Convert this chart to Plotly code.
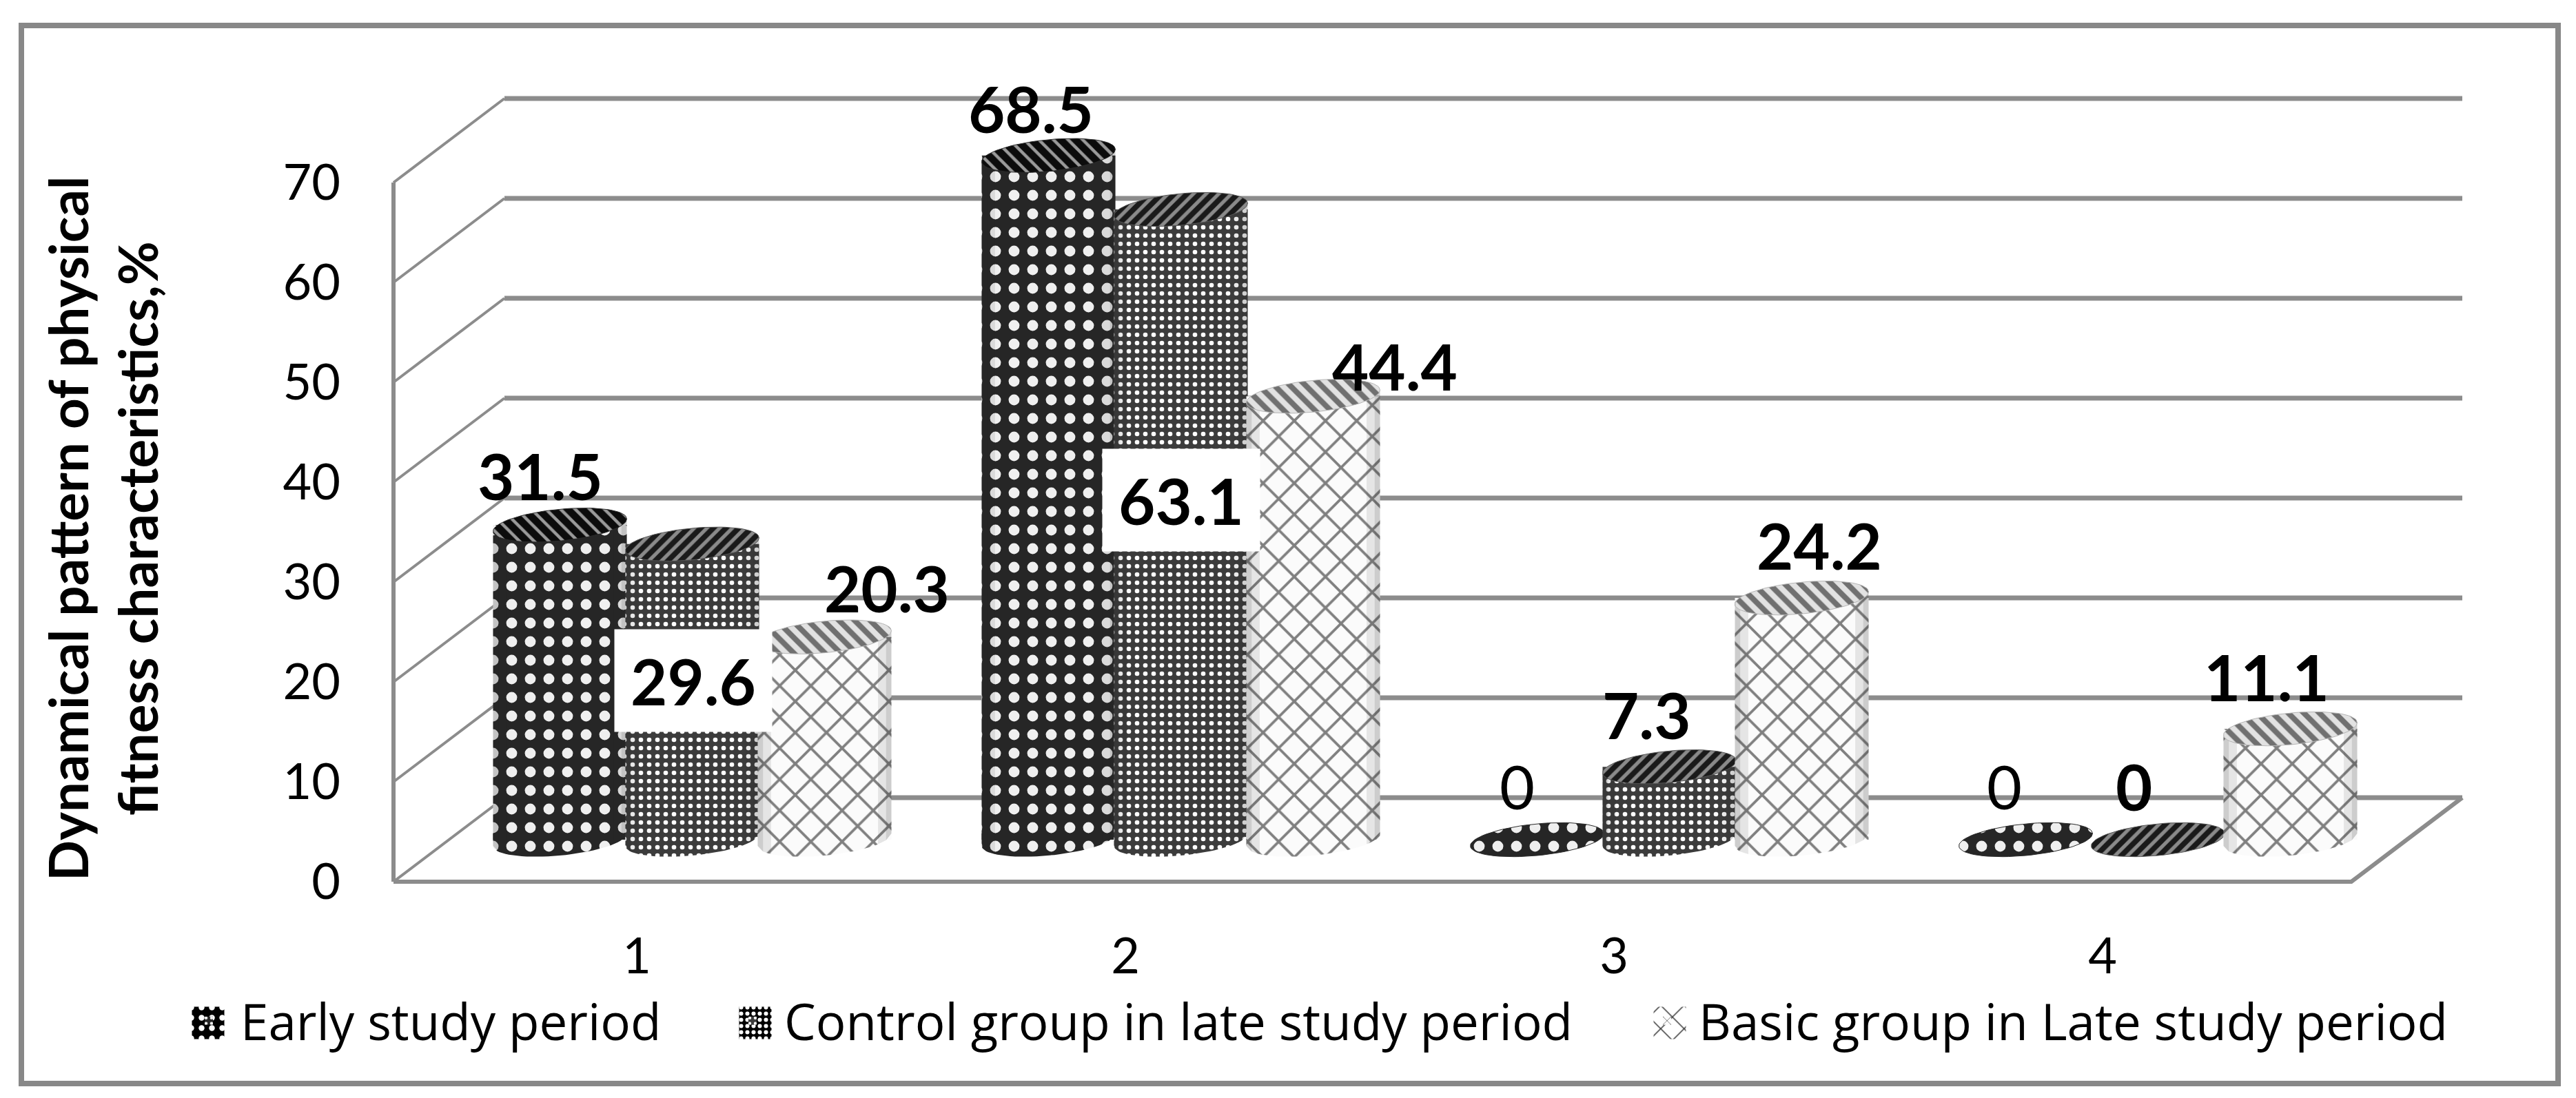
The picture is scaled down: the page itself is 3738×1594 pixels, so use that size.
import numpy as np
import plotly.graph_objects as go

categories = [1, 2, 3, 4]
series_names = ["Early study period", "Control group in late study period", "Basic group in Late study period"]
early = [31.5, 68.5, 0, 0]
control = [29.6, 63.1, 7.3, 0]
basic = [20.3, 44.4, 24.2, 11.1]
y_ticks = [0, 10, 20, 30, 40, 50, 60, 70]

W, H = 3738, 1594
PX_X = 709.0            # px per category
PX_Y = 14.5             # px per value unit
X1_PX, Y0_PX = 924, 1280
sx = lambda px: 1 + (px - X1_PX) / PX_X      # page px -> x axis units
sy = lambda px: (Y0_PX - px) / PX_Y          # page px -> y axis units

x_left, x_right = sx(571), sx(3412)
depth_x, depth_y = 161 / PX_X, 122 / PX_Y
mid_x, mid_y = depth_x / 2, depth_y / 2
offset = 192 / PX_X
bar_w = 194 / PX_X
a, b, tilt = 97 / PX_X, 23 / PX_Y, 9 / PX_Y

body_pat = [
    dict(shape=".", fgcolor="#efefef", bgcolor="#262626", size=27, solidity=0.27, fgopacity=1),
    dict(shape=".", fgcolor="#ffffff", bgcolor="#3c3c3c", size=12, solidity=0.24, fgopacity=1),
    dict(shape="x", fgcolor="#808080", bgcolor="#fbfbfb", size=32, solidity=0.22, fgopacity=1),
]
cap_pat = [
    dict(shape="\\", fgcolor="#0c0c0c", bgcolor="#9a9a9a", size=15, solidity=0.7, fgopacity=1),
    dict(shape="/", fgcolor="#1a1a1a", bgcolor="#8a8a8a", size=13, solidity=0.6, fgopacity=1),
    dict(shape="\\", fgcolor="#707070", bgcolor="#e2e2e2", size=16, solidity=0.5, fgopacity=1),
]
swatch_pat = [
    dict(shape=".", fgcolor="#ffffff", bgcolor="#000000", size=15, solidity=0.25, fgopacity=1),
    dict(shape=".", fgcolor="#ffffff", bgcolor="#000000", size=9, solidity=0.35, fgopacity=1),
    dict(shape="x", fgcolor="#333333", bgcolor="#ffffff", size=24, solidity=0.12, fgopacity=1),
]
edge = ["#2a2a2a", "#555555", "#b5b5b5"]

label_shift = {
    (0, 0): (-29, 72), (0, 1): (-26, 68), (0, 2): (-29, 78), (0, 3): (-31, 78),
    (1, 0): (1, -198), (1, 1): (0, -422), (1, 2): (-33, 76), (1, 3): (-35, 78),
    (2, 0): (90, 71), (2, 1): (118, 44), (2, 2): (25, 77), (2, 3): (-35, 76),
}
boxed = {(1, 0), (1, 1)}
light = {(0, 2), (0, 3)}
legend_x_px = [257, 1046, 2373]
swatch_px = [302, 1096, 2423]
FONT = "Lato"
LEG_FONT = "Open Sans"
GREY = "#8c8c8c"

fig = go.Figure()

# perspective gridlines: wall + floor
ox, oy, hx, hy = [], [], [], []
for v in y_ticks:
    ox += [x_left, x_left + depth_x, None]
    oy += [v, v + depth_y, None]
    hx += [x_left + depth_x, x_right + depth_x, None]
    hy += [v + depth_y, v + depth_y, None]
fig.add_trace(go.Scatter(x=ox, y=oy, mode="lines", line=dict(color=GREY, width=4), showlegend=False, hoverinfo="skip", zorder=0))
fig.add_trace(go.Scatter(x=hx, y=hy, mode="lines", line=dict(color=GREY, width=7), showlegend=False, hoverinfo="skip", zorder=0))
fig.add_trace(go.Scatter(x=[x_left, x_left, None, x_left, x_right, x_right + depth_x],
                         y=[70, 0, None, 0, 0, depth_y], mode="lines",
                         line=dict(color=GREY, width=6), showlegend=False, hoverinfo="skip", zorder=0))

t = np.linspace(0, 2 * np.pi, 73)
annotations = []
legends = {}
for s, vals in enumerate([early, control, basic]):
    cx = [c + mid_x + (s - 1) * offset for c in categories]
    key = "legend" if s == 0 else f"legend{s + 1}"
    legends[key] = dict(x=legend_x_px[s] / W, xanchor="left", y=(H - 1482) / H, yanchor="middle",
                        font=dict(family=LEG_FONT, size=72.7, color="#000000"), itemwidth=82,
                        bgcolor="rgba(0,0,0,0)")
    fig.add_trace(go.Bar(
        x=cx, y=vals, base=mid_y, width=bar_w, name=series_names[s], legend=key,
        marker=dict(color=body_pat[s]["bgcolor"], pattern=body_pat[s], line=dict(width=0)),
        zorder=s + 1, hoverinfo="skip",
    ))
    for i, v in enumerate(vals):
        if v > 0:
            th = t[:37]   # lower half of the base ellipse, closed up into the bar
            fig.add_trace(go.Scatter(
                x=list(cx[i] + a * np.cos(th)) + [cx[i] - a, cx[i] + a],
                y=list(mid_y - b * np.sin(th) + tilt * np.cos(th)) + [mid_y + tilt, mid_y + tilt],
                fill="toself", fillcolor=body_pat[s]["bgcolor"], fillpattern=body_pat[s],
                mode="lines", line=dict(width=0), showlegend=False, hoverinfo="skip", zorder=s + 1))
    # cylinder edge shading
    for alpha, (u0, u1) in [(0.22, (0.92, 1.0)), (0.10, (0.8, 0.92))]:
        px_, py_ = [], []
        for i, v in enumerate(vals):
            if v <= 0:
                continue
            for sign in (-1, 1):
                us = [sign * u0, sign * u1]
                yb = [mid_y - b * np.sqrt(max(1 - u * u, 0)) + tilt * u for u in us]
                yt = [v + mid_y + tilt * u for u in us]
                px_ += [cx[i] + a * us[0], cx[i] + a * us[1], cx[i] + a * us[1], cx[i] + a * us[0], cx[i] + a * us[0], None]
                py_ += [yb[0], yb[1], yt[1], yt[0], yb[0], None]
        fig.add_trace(go.Scatter(x=px_, y=py_, fill="toself", fillcolor=f"rgba(40,40,40,{alpha})",
                                 mode="lines", line=dict(width=0), showlegend=False,
                                 hoverinfo="skip", zorder=s + 1))
    for i, v in enumerate(vals):
        top = v + mid_y
        fig.add_trace(go.Scatter(
            x=cx[i] + a * np.cos(t), y=top + b * np.sin(t) + tilt * np.cos(t),
            fill="toself", fillcolor=cap_pat[s]["bgcolor"],
            fillpattern=cap_pat[s] if v > 0 or s > 0 else body_pat[0],
            mode="lines", line=dict(width=1, color=edge[s]), showlegend=False, hoverinfo="skip", zorder=s + 1))
        dx, dy = label_shift[(s, i)]
        bold = (s, i) not in light
        ann = dict(x=cx[i], y=top, xref="x", yref="y", xshift=dx, yshift=dy, showarrow=False,
                   xanchor="center", yanchor="middle",
                   text=f"<b>{v}</b>" if bold else f"{v}",
                   font=dict(family=FONT, size=92 if bold else 88, color="#000000"))
        if (s, i) in boxed:
            ann.update(bgcolor="#ffffff", borderpad=12, width=204, height=124)
        annotations.append(ann)
    # large legend swatch (plotly's own swatch is a fixed 12 px)
    sw_x, sw_y = sx(swatch_px[s]), sy(1485)
    hw, hh = 23.5 / PX_X, 23.5 / PX_Y
    fig.add_trace(go.Scatter(
        x=[sw_x - hw, sw_x + hw, sw_x + hw, sw_x - hw, sw_x - hw],
        y=[sw_y - hh, sw_y - hh, sw_y + hh, sw_y + hh, sw_y - hh],
        fill="toself", fillcolor=swatch_pat[s]["bgcolor"], fillpattern=swatch_pat[s],
        mode="lines", line=dict(width=0), showlegend=False, hoverinfo="skip", zorder=5))

annotations.append(dict(
    x=148 / W, y=(H - 768) / H, xref="paper", yref="paper", showarrow=False, textangle=-90,
    xanchor="center", yanchor="middle",
    text="<b>Dynamical pattern of physical<br>fitness characteristics,%</b>",
    font=dict(family=FONT, size=78, color="#000000"), align="center"))

fig.update_layout(
    width=W, height=H, margin=dict(l=0, r=0, t=0, b=0),
    paper_bgcolor="#ffffff", plot_bgcolor="#ffffff", barmode="overlay",
    annotations=annotations,
    font=dict(family=FONT, color="#000000", size=72),
    shapes=[dict(type="rect", xref="paper", yref="paper", x0=31 / W, x1=3712 / W,
                 y0=(H - 1573) / H, y1=(H - 37) / H, line=dict(color="#888888", width=8), layer="below")],
    xaxis=dict(range=[sx(0), sx(W)], domain=[0, 1], anchor="free", position=(H - Y0_PX) / H,
               tickmode="array", tickvals=categories, ticktext=[str(c) for c in categories],
               showgrid=False, zeroline=False, showline=False, ticks="", ticklabelstandoff=60,
               tickfont=dict(family=FONT, size=72, color="#000000")),
    yaxis=dict(range=[sy(H), sy(0)], domain=[0, 1], anchor="free", position=571 / W,
               tickmode="array", tickvals=y_ticks,
               showgrid=False, zeroline=False, showline=False, ticks="", ticklabelstandoff=77,
               tickfont=dict(family=FONT, size=72, color="#000000")),
    **legends,
)
fig.write_html("out.html", config={"displayModeBar": False},
               post_script="document.body.style.margin='0';")
